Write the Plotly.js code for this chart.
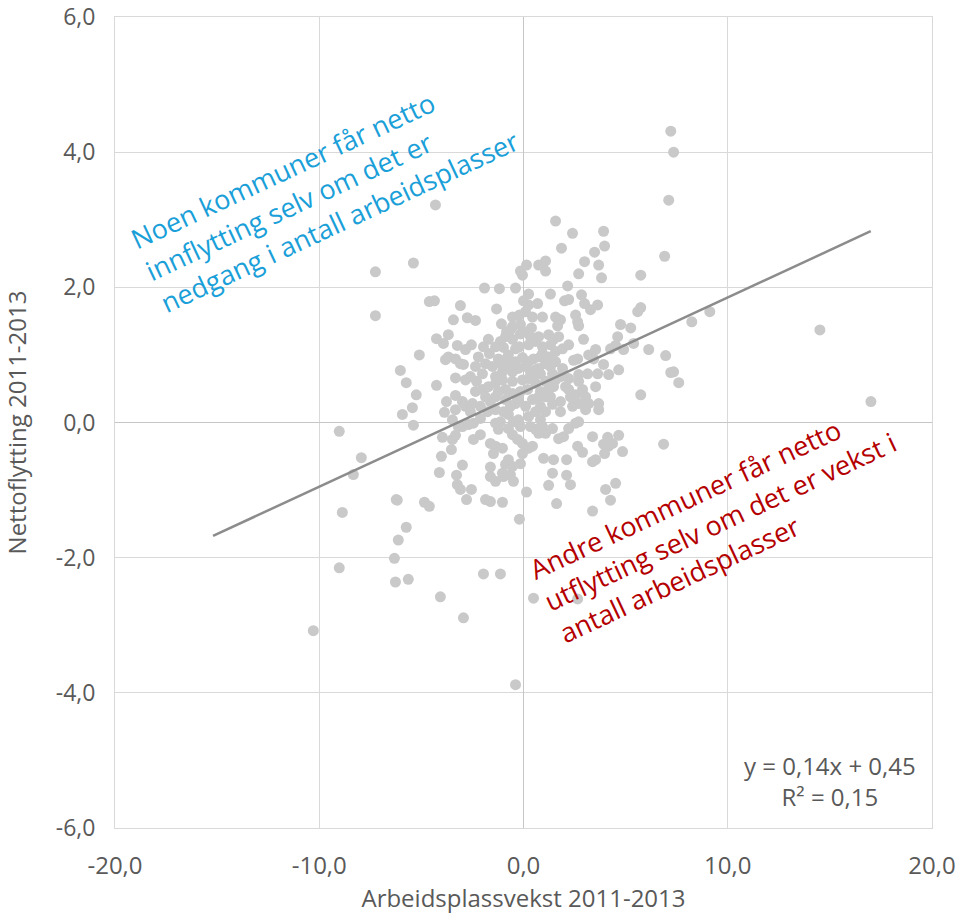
<!DOCTYPE html>
<html>
<head>
<meta charset="utf-8">
<script src="https://cdn.plot.ly/plotly-3.0.1.min.js"></script>
<style>html,body{margin:0;padding:0;background:#fff;}#chart{width:960px;height:915px;}</style>
</head>
<body>
<div id="chart"></div>
<script>
// Each municipality: [arbeidsplassvekst 2011-2013 (%), nettoflytting 2011-2013 (%)]
const kommuner = [
  [-10.29,-3.08],[-9.02,-0.13],[-8.87,-1.33],[-9.02,-2.15],[-8.33,-0.77],[-7.94,-0.52],[-7.25,2.23],[-7.25,1.58],
  [-6.23,-1.14],[-6.32,-2.01],[-6.27,-2.36],[-5.64,-2.32],[-5.74,-1.55],[-6.03,0.77],[-5.74,0.59],[-5.39,2.36],
  [-4.31,3.22],[-4.61,1.79],[-4.36,1.80],[-4.07,-2.58],[-2.94,-2.89],[-1.96,-2.24],[-1.13,-2.24],[-0.39,-3.88],
  [0.49,-2.60],[2.65,-2.61],[1.57,2.98],[2.40,2.80],[7.21,4.31],[7.35,4.00],[7.11,3.29],[6.91,2.46],
  [8.24,1.49],[9.12,1.64],[14.51,1.37],[17.01,0.31],[6.86,-0.32],[6.96,0.99],[7.21,0.74],[7.35,0.75],
  [7.60,0.59],[6.13,1.08],[5.74,2.18],[5.74,1.70],[5.59,1.64],[5.74,0.41],[-6.13,-1.74],[-6.18,-1.15],
  [-4.85,-1.18],[-4.61,-1.24],[-5.10,1.00],[-5.25,0.41],[-5.44,0.22],[-5.93,0.12],[-5.39,-0.04],[-4.26,0.55],
  [-3.77,0.31],[-3.87,0.15],[-4.02,-0.50],[-4.12,-0.74],[-4.26,1.24],[-3.92,1.17],[-3.68,1.30],[-3.82,0.93],
  [-3.68,0.97],[-3.97,-0.22],
  [0.15,2.33],[0.74,2.33],[-0.15,2.24],[-0.05,2.18],[-1.91,1.99],[-1.18,1.98],[-0.39,1.99],[0.25,1.90],
  [-3.09,1.73],[-1.32,1.68],[0.00,1.80],[0.25,1.74],[0.10,1.64],[-0.20,1.59],[-0.54,1.56],[0.44,1.56],
  [-3.43,1.52],[-2.75,1.55],[-2.35,1.51],[-1.08,1.46],[0.39,1.40],[-3.24,1.14],[-2.55,1.15],[-2.84,1.08],
  [-1.67,1.02],[-0.98,1.11],[-0.74,1.00],[-0.39,1.09],[-0.20,1.12],[0.25,1.15],[0.59,1.20],[-3.09,0.87],
  [-2.94,0.86],[-3.33,0.94],[-1.23,0.94],[-0.88,0.93],[0.25,0.90],[0.49,0.94],[-2.01,0.72],[-1.03,0.75],
  [-0.54,0.75],[-0.25,0.80],[-1.37,0.68],[-3.33,0.66],[-2.84,0.63],
  [3.92,2.83],[1.86,2.58],[3.97,2.61],[3.48,2.52],[1.08,2.39],[2.99,2.38],[3.68,2.33],[1.08,2.24],
  [2.70,2.20],[3.82,2.14],[2.16,2.02],[1.32,1.90],[2.84,1.89],[2.01,1.80],[2.21,1.82],[0.69,1.76],
  [2.99,1.76],[3.28,1.67],[3.63,1.74],[0.93,1.56],[1.57,1.56],[1.81,1.52],[1.67,1.43],[2.55,1.59],
  [2.65,1.49],[2.70,1.43],[4.75,1.45],[5.25,1.40],[0.74,1.27],[1.23,1.30],[1.47,1.23],[1.72,1.27],
  [1.32,1.15],[1.57,1.05],[1.91,1.09],[2.21,1.15],[2.94,1.23],[4.61,1.27],[4.26,1.09],[4.90,1.08],
  [4.51,1.14],[5.39,1.17],[3.19,1.00],[3.53,1.08],[3.43,0.94],[2.65,0.94],[2.45,0.92],[3.92,0.86],
  [4.17,0.71],[4.66,0.78],[0.93,1.02],[1.08,0.87],[1.32,0.83],[1.57,0.90],[1.91,0.80],[0.74,0.80],
  [1.42,0.72],[3.14,0.72],[3.63,0.72],[2.70,0.71],[1.81,0.68],[2.21,0.65],[2.70,0.61],
  [-2.35,0.46],[-2.01,0.49],[-1.72,0.53],[-1.37,0.58],[-1.03,0.63],[-0.54,0.61],[-0.05,0.63],[0.25,0.65],
  [0.59,0.58],[-1.37,0.38],[-0.88,0.34],[-0.39,0.28],[0.10,0.24],[0.44,0.34],[0.74,0.38],[-3.33,0.40],
  [-2.99,0.31],[-2.84,0.24],[-2.50,0.28],[-3.33,0.19],[-3.48,0.04],[-3.19,-0.06],[-2.11,0.06],[-1.76,0.16],
  [-1.37,0.19],[-0.74,0.12],[-0.25,0.04],[0.25,0.09],[0.59,0.16],[-2.99,-0.06],[-2.70,-0.03],[-2.45,-0.01],
  [-1.37,-0.01],[-1.23,-0.10],[-0.74,-0.09],[-0.54,-0.18],[-0.29,-0.25],[-0.05,-0.31],[0.25,-0.38],[-3.48,-0.25],
  [-3.33,-0.19],[-2.45,-0.25],[-2.11,-0.18],[-1.62,-0.31],[-1.37,-0.35],[-1.03,-0.38],[-1.47,-0.46],[-0.74,-0.55],
  [-0.54,-0.65],[-0.88,-0.62],[-0.05,-0.46],[-0.15,-0.61],[0.44,-0.35],[0.74,-0.16],[-3.53,-0.40],[-2.99,-0.63],
  [-1.62,-0.66],[-3.28,-0.78],[-1.62,-0.80],[-1.37,-0.87],[-0.98,-0.80],[-0.64,-0.77],[-0.49,-0.87],[-1.03,-0.75],
  [-3.24,-0.92],[-3.09,-0.99],[-2.55,-0.99],[-2.79,-1.14],[-1.86,-1.14],[-1.62,-1.17],[-1.03,-1.18],[0.15,-1.03],
  [-0.20,-1.43],
  [1.08,0.61],[1.57,0.63],[2.06,0.53],[1.32,0.38],[1.81,0.31],[0.83,0.24],[2.30,0.38],[1.81,0.16],
  [2.21,0.49],[2.55,0.41],[2.89,0.49],[3.04,0.38],[3.19,0.28],[2.70,0.28],[2.40,0.24],[3.04,0.19],
  [3.53,0.53],[3.68,0.28],[3.68,0.19],[0.59,-0.10],[0.93,-0.06],[1.08,-0.16],[1.42,-0.09],[2.21,-0.09],
  [2.55,-0.01],[2.70,0.01],[1.72,-0.24],[1.96,-0.21],[3.38,-0.21],[4.12,-0.22],[3.92,-0.32],[4.17,-0.35],
  [4.66,-0.19],[4.36,-0.31],[2.65,-0.35],[2.89,-0.44],[3.97,-0.46],[4.85,-0.43],[0.98,-0.53],[1.47,-0.55],
  [2.11,-0.55],[3.38,-0.58],[3.53,-0.55],[1.42,-0.75],[2.11,-0.78],[1.23,-0.93],[2.30,-0.92],[4.02,-0.99],
  [4.51,-0.90],[4.26,-1.15],[1.62,-1.20],[3.38,-1.31],
  [-0.88,1.27],[-0.54,1.23],[-0.15,1.31],[0.10,1.34],[0.34,1.27],[-0.64,1.37],[-1.13,1.20],[-1.37,1.12],
  [-0.39,0.90],[-0.05,0.96],[0.10,0.83],[0.34,0.75],[-0.74,0.83],[-1.13,0.87],[-1.52,0.83],[-0.15,0.46],
  [0.20,0.49],[-0.54,0.43],[-0.88,0.49],[-1.23,0.46],[-0.25,0.34],[-0.64,0.24],[-0.98,0.16],[-1.62,0.31],
  [-1.86,0.38],[0.83,0.46],[1.08,0.38],[1.23,0.49],[1.47,0.53],[0.83,0.72],[0.59,0.78],[0.44,0.68],
  [0.93,1.12],[0.83,0.97],[1.23,0.97],[-0.15,1.45],[-0.54,1.42],[-0.83,1.34],[-1.72,1.23],[-1.96,1.12],
  [-2.21,0.97],[-2.35,0.83],[-1.86,0.87],[-2.60,0.68],[-2.30,0.61],[-2.11,0.24],[-2.60,0.16],[-1.13,0.01],
  [1.08,0.16],[1.42,0.27],[0.83,0.04],[0.34,-0.06],[-0.15,-0.06],[-0.49,0.01]
];

// Linear trend (Excel): y = 0,14x + 0,45, drawn over this x-span
const trendSlope = 0.14;
const trendIntercept = 0.45;
const trendX = [-15.2, 17.0];
const trendY = trendX.map(x => trendSlope * x + trendIntercept);

const xTicks = [-20, -10, 0, 10, 20];
const xTickText = ['-20,0', '-10,0', '0,0', '10,0', '20,0'];
const yTicks = [-6, -4, -2, 0, 2, 4, 6];
const yTickText = ['-6,0', '-4,0', '-2,0', '0,0', '2,0', '4,0', '6,0'];

const xTitle = 'Arbeidsplassvekst 2011-2013';
const yTitle = 'Nettoflytting 2011-2013';
const noteUp = 'Noen kommuner får netto<br>innflytting selv om det er<br>nedgang i antall arbeidsplasser';
const noteDown = 'Andre kommuner får netto<br>utflytting selv om det er vekst i<br>antall arbeidsplasser';
const eqText = 'y = 0,14x + 0,45<br>R² = 0,15';

const FONT = 'Open Sans, Noto Sans, sans-serif';
const GREY = '#595959';

const traces = [
  {
    type: 'scatter', mode: 'markers',
    x: kommuner.map(p => p[0]), y: kommuner.map(p => p[1]),
    marker: {color: '#c9c9c9', size: 11, line: {width: 0}},
    hoverinfo: 'skip', showlegend: false
  },
  {
    type: 'scatter', mode: 'lines',
    x: trendX, y: trendY,
    line: {color: '#8c8c8c', width: 2.5},
    hoverinfo: 'skip', showlegend: false
  }
];

const layout = {
  width: 960, height: 915,
  margin: {l: 115, r: 28, t: 17, b: 87},
  paper_bgcolor: '#ffffff', plot_bgcolor: '#ffffff',
  showlegend: false,
  hovermode: false,
  font: {family: FONT, color: GREY},
  xaxis: {
    range: [-20.0001, 20.0001], tickvals: xTicks, ticktext: xTickText,
    showgrid: true, gridcolor: '#d9d9d9', gridwidth: 1,
    zeroline: true, zerolinecolor: '#c6c6c6', zerolinewidth: 1,
    showline: true, linecolor: '#d9d9d9', linewidth: 1, mirror: true,
    ticks: '', ticklabelstandoff: 16, ticklabeloverflow: 'allow',
    tickfont: {family: FONT, size: 24, color: GREY},
    title: {text: xTitle, font: {family: FONT, size: 24, color: GREY}, standoff: 4}
  },
  yaxis: {
    range: [-6.0001, 6.0001], tickvals: yTicks, ticktext: yTickText,
    showgrid: true, gridcolor: '#d9d9d9', gridwidth: 1,
    zeroline: true, zerolinecolor: '#c6c6c6', zerolinewidth: 1,
    showline: true, linecolor: '#d9d9d9', linewidth: 1, mirror: true,
    ticks: '', ticklabelstandoff: 14, ticklabeloverflow: 'allow',
    tickfont: {family: FONT, size: 23, color: GREY},
    title: {text: yTitle, font: {family: FONT, size: 24, color: GREY}, standoff: 22}
  },
  annotations: [
    {x: -9.75, y: 3.45, xref: 'x', yref: 'y', text: noteUp, showarrow: false,
     textangle: -25, align: 'left', xanchor: 'center', yanchor: 'middle',
     font: {family: FONT, size: 27, color: '#1a9fd9'}},
    {x: 9.6, y: -1.46, xref: 'x', yref: 'y', text: noteDown, showarrow: false,
     textangle: -25, align: 'left', xanchor: 'center', yanchor: 'middle',
     font: {family: FONT, size: 27, color: '#b40000'}},
    {x: 15.0, y: -5.31, xref: 'x', yref: 'y', text: eqText, showarrow: false,
     align: 'center', xanchor: 'center', yanchor: 'middle',
     font: {family: FONT, size: 24, color: GREY}}
  ]
};

Plotly.newPlot('chart', traces, layout, {displayModeBar: false, staticPlot: true});
</script>
</body>
</html>
